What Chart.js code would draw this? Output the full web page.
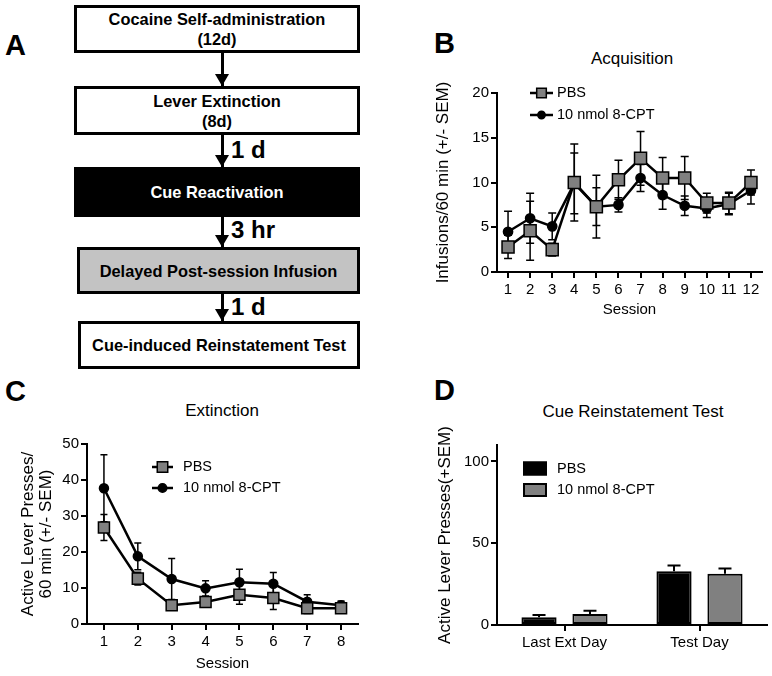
<!DOCTYPE html>
<html>
<head>
<meta charset="utf-8">
<script src="https://cdn.jsdelivr.net/npm/chart.js@4/dist/chart.umd.min.js"></script>
<style>
  body { margin: 0; background: #fff; }
  #page { position: relative; width: 772px; height: 676px; overflow: hidden; font-family: "Liberation Sans", Arial, sans-serif; color: #000; }
  .letter { position: absolute; font-weight: bold; font-size: 29px; line-height: 29px; }
  .box { position: absolute; left: 74px; width: 286px; border: 3px solid #000; box-sizing: border-box; display: flex; flex-direction: column; justify-content: center; align-items: center; font-weight: bold; font-size: 16.4px; line-height: 20px; text-align: center; }
  .arrow { position: absolute; left: 221px; width: 3px; background: #000; }
  .arrow::after { content: ''; position: absolute; left: -6px; bottom: 0; border-left: 7.5px solid transparent; border-right: 7.5px solid transparent; border-top: 12px solid #000; }
  .gap { position: absolute; left: 231px; font-weight: bold; font-size: 24px; line-height: 24px; }
  .title { position: absolute; font-size: 17px; line-height: 20px; transform: translate(-50%, -50%); white-space: nowrap; }
  canvas { position: absolute; }
</style>
</head>
<body>
<div id="page">
  <!-- A: protocol timeline -->
  <div class="letter" style="left:5px;top:31px">A</div>
  <div class="box" style="top:5px;height:48px">Cocaine Self-administration<br>(12d)</div>
  <div class="arrow" style="top:53px;height:33px"></div>
  <div class="box" style="top:86px;height:49px">Lever Extinction<br>(8d)</div>
  <div class="arrow" style="top:135px;height:32px"></div>
  <div class="gap" style="top:138px">1 d</div>
  <div class="box" style="top:167px;height:50px;background:#000;color:#fff">Cue Reactivation</div>
  <div class="arrow" style="top:217px;height:30px"></div>
  <div class="gap" style="top:218px">3 hr</div>
  <div class="box" style="top:247px;height:47px;left:77px;width:283px;background:#c3c3c3">Delayed Post-session Infusion</div>
  <div class="arrow" style="top:294px;height:27px"></div>
  <div class="gap" style="top:295px">1 d</div>
  <div class="box" style="top:321px;height:48px;left:78px;width:282px">Cue-induced Reinstatement Test</div>

  <div class="letter" style="left:434px;top:29px">B</div>
  <div class="letter" style="left:5px;top:377px">C</div>
  <div class="letter" style="left:434px;top:376px">D</div>

  <div class="title" style="left:632px;top:59px">Acquisition</div>
  <div class="title" style="left:222px;top:411px">Extinction</div>
  <div class="title" style="left:633px;top:412px">Cue Reinstatement Test</div>

  <canvas id="chartB" width="352" height="300" style="left:420px;top:35px"></canvas>
  <canvas id="chartC" width="372" height="306" style="left:0px;top:370px"></canvas>
  <canvas id="chartD" width="372" height="306" style="left:400px;top:370px"></canvas>
</div>
<script>
// series names
var groups = ['PBS', '10 nmol 8-CPT'];

// B: acquisition, infusions per session
var sessionsB = ['1', '2', '3', '4', '5', '6', '7', '8', '9', '10', '11', '12'];
var pbsB = [2.8, 4.6, 2.5, 10.0, 7.3, 10.3, 12.7, 10.5, 10.5, 7.7, 7.7, 10.0];
var pbsErrB = [1.3, 3.3, 0.7, 4.3, 3.5, 2.2, 3.0, 2.3, 2.4, 1.1, 1.2, 1.4];
var cptB = [4.5, 6.0, 5.1, 9.9, 7.3, 7.5, 10.5, 8.6, 7.4, 7.1, 7.6, 9.1];
var cptErrB = [2.3, 2.8, 1.5, 3.4, 2.1, 0.8, 1.5, 1.6, 1.1, 1.0, 1.2, 1.5];
var yTicksB = [0, 5, 10, 15, 20];

// C: extinction, active lever presses
var sessionsC = ['1', '2', '3', '4', '5', '6', '7', '8'];
var pbsC = [26.8, 12.6, 5.2, 6.1, 8.1, 7.2, 4.4, 4.4];
var pbsErrC = [3.6, 1.8, 1.0, 1.0, 2.6, 3.2, 1.5, 1.0];
var cptC = [37.7, 18.8, 12.5, 9.9, 11.6, 11.2, 6.2, 5.2];
var cptErrC = [9.3, 3.7, 5.7, 2.1, 3.6, 3.1, 1.9, 1.2];
var yTicksC = [0, 10, 20, 30, 40, 50];

// D: cue reinstatement test
var daysD = ['Last Ext Day', 'Test Day'];
var pbsD = [4.7, 32.9];
var pbsErrD = [1.4, 3.5];
var cptD = [6.7, 31.3];
var cptErrD = [2.0, 3.3];
var yTicksD = [0, 50, 100];
var yMaxD = 110;

var FONT = '"Liberation Sans", Arial, sans-serif';
Chart.defaults.font.family = FONT;
Chart.defaults.color = '#000';

// SEM whiskers
var errorBars = {
  id: 'errorBars',
  draw: function(chart, o) {
    var ctx = chart.ctx, y = chart.scales.y;
    ctx.save();
    ctx.strokeStyle = '#000';
    ctx.lineWidth = o.width || 1.5;
    chart.data.datasets.forEach(function(ds, di) {
      if (!ds.errors) return;
      var meta = chart.getDatasetMeta(di);
      meta.data.forEach(function(el, i) {
        var v = ds.data[i], e = ds.errors[i];
        var top = y.getPixelForValue(v + e);
        var bot = o.upOnly ? el.y : y.getPixelForValue(v - e);
        var h = o.cap / 2;
        ctx.beginPath();
        ctx.moveTo(el.x, top); ctx.lineTo(el.x, bot);
        ctx.moveTo(el.x - h, top); ctx.lineTo(el.x + h, top);
        if (!o.upOnly) { ctx.moveTo(el.x - h, bot); ctx.lineTo(el.x + h, bot); }
        ctx.stroke();
      });
    });
    ctx.restore();
  },
  beforeDatasetsDraw: function(chart, args, o) { if (o.behind) this.draw(chart, o); },
  afterDatasetsDraw: function(chart, args, o) { if (!o.behind) this.draw(chart, o); }
};

// GraphPad style key inside the plot
var seriesKey = {
  id: 'seriesKey',
  afterDraw: function(chart, args, o) {
    var ctx = chart.ctx;
    ctx.save();
    chart.data.datasets.forEach(function(ds, i) {
      var cy = o.y + i * o.gap;
      ctx.strokeStyle = '#000';
      if (o.kind === 'box') {
        ctx.fillStyle = ds.backgroundColor;
        ctx.lineWidth = 2;
        ctx.fillRect(o.x, cy - o.h / 2, o.len, o.h);
        ctx.strokeRect(o.x + 1, cy - o.h / 2 + 1, o.len - 2, o.h - 2);
      } else {
        ctx.lineWidth = ds.borderWidth;
        ctx.beginPath();
        ctx.moveTo(o.x, cy); ctx.lineTo(o.x + o.len, cy);
        ctx.stroke();
        ctx.fillStyle = ds.pointBackgroundColor;
        ctx.lineWidth = ds.pointBorderWidth;
        Chart.helpers.drawPoint(ctx, {
          pointStyle: ds.pointStyle, radius: ds.pointRadius * o.scale,
          rotation: 0, borderWidth: ds.pointBorderWidth
        }, o.x + o.len / 2, cy);
      }
      ctx.fillStyle = '#000';
      ctx.font = o.size + 'px ' + FONT;
      ctx.textBaseline = 'middle';
      ctx.textAlign = 'left';
      ctx.fillText(ds.label, o.x + o.len + o.pad, cy);
    });
    ctx.restore();
  }
};

function lineSet(name, data, errors, square, r) {
  return {
    label: name, data: data, errors: errors,
    borderColor: '#000', borderWidth: 2.5, tension: 0,
    pointStyle: square ? 'rect' : 'circle',
    pointRadius: r, pointHoverRadius: r,
    pointBackgroundColor: square ? '#808080' : '#000',
    pointBorderColor: '#000', pointBorderWidth: 1.5
  };
}

function axisStyle() {
  return {
    grid: { drawOnChartArea: false, color: '#000', lineWidth: 2, tickLength: 6, offset: false },
    border: { color: '#000', width: 2 }
  };
}

function xAxis(height, title, titlePad) {
  var a = axisStyle();
  a.offset = true;
  a.ticks = { font: { size: 15 }, padding: 3, maxRotation: 0, autoSkip: false };
  a.title = { display: !!title, text: title, font: { size: 15 }, padding: { top: 0, bottom: titlePad } };
  a.afterFit = function(s) { s.height = height; };
  return a;
}

function yAxis(ticks, max, width, title, titlePad, lineHeight) {
  var a = axisStyle();
  a.min = ticks[0];
  a.max = max;
  a.ticks = { stepSize: ticks[1] - ticks[0], font: { size: 15 }, padding: 2 };
  a.afterBuildTicks = function(s) {
    s.ticks = s.ticks.filter(function(t) { return ticks.indexOf(t.value) >= 0; });
  };
  a.title = { display: true, text: title, font: { size: 17, lineHeight: lineHeight || 1.2 }, padding: { top: titlePad, bottom: 0 } };
  a.afterFit = function(s) { s.width = width; };
  return a;
}

function baseOptions(pad, scales, errOpts, keyOpts) {
  return {
    responsive: false, animation: false, devicePixelRatio: 1,
    layout: { padding: pad },
    events: [],
    plugins: { legend: { display: false }, tooltip: { enabled: false }, errorBars: errOpts, seriesKey: keyOpts },
    scales: scales
  };
}

new Chart(document.getElementById('chartB'), {
  type: 'line',
  data: {
    labels: sessionsB,
    datasets: [lineSet(groups[0], pbsB, pbsErrB, true, 8.5), lineSet(groups[1], cptB, cptErrB, false, 4.6)]
  },
  options: baseOptions(
    { top: 58, right: 4, left: 0, bottom: 0 },
    { x: xAxis(63, 'Session', 16), y: yAxis(yTicksB, yTicksB[yTicksB.length - 1], 77, 'Infusions/60 min (+/- SEM)', 12.8) },
    { behind: true, cap: 8, width: 1.5 },
    { kind: 'line', x: 110, y: 58, gap: 22, len: 23, pad: 4, scale: 0.8, size: 14.5 }
  ),
  plugins: [errorBars, seriesKey]
});

new Chart(document.getElementById('chartC'), {
  type: 'line',
  data: {
    labels: sessionsC,
    datasets: [lineSet(groups[0], pbsC, pbsErrC, true, 7.8), lineSet(groups[1], cptC, cptErrC, false, 4.5)]
  },
  options: baseOptions(
    { top: 74, right: 14, left: 0, bottom: 0 },
    { x: xAxis(52, 'Session', 3), y: yAxis(yTicksC, yTicksC[yTicksC.length - 1], 87, ['Active Lever Presses/', '60 min (+/- SEM)'], 19.8, 1.03) },
    { behind: true, cap: 7, width: 1.5 },
    { kind: 'line', x: 152, y: 97, gap: 21, len: 21, pad: 10, scale: 0.95, size: 14.5 }
  ),
  plugins: [errorBars, seriesKey]
});

new Chart(document.getElementById('chartD'), {
  type: 'bar',
  data: {
    labels: daysD,
    datasets: [
      { label: groups[0], data: pbsD, errors: pbsErrD, backgroundColor: '#000', borderColor: '#000', borderWidth: 2, borderSkipped: false, barPercentage: 0.69, categoryPercentage: 0.755 },
      { label: groups[1], data: cptD, errors: cptErrD, backgroundColor: '#808080', borderColor: '#000', borderWidth: 2, borderSkipped: false, barPercentage: 0.69, categoryPercentage: 0.755 }
    ]
  },
  options: baseOptions(
    { top: 75, right: 5, left: 0, bottom: 0 },
    { x: xAxis(51, '', 0), y: yAxis(yTicksD, yMaxD, 97, 'Active Lever Presses(+SEM)', 34.8) },
    { behind: false, upOnly: true, cap: 13, width: 2 },
    { kind: 'box', x: 123, y: 98.5, gap: 21.5, len: 24, h: 14, pad: 10, size: 14.5 }
  ),
  plugins: [errorBars, seriesKey]
});
</script>
</body>
</html>
